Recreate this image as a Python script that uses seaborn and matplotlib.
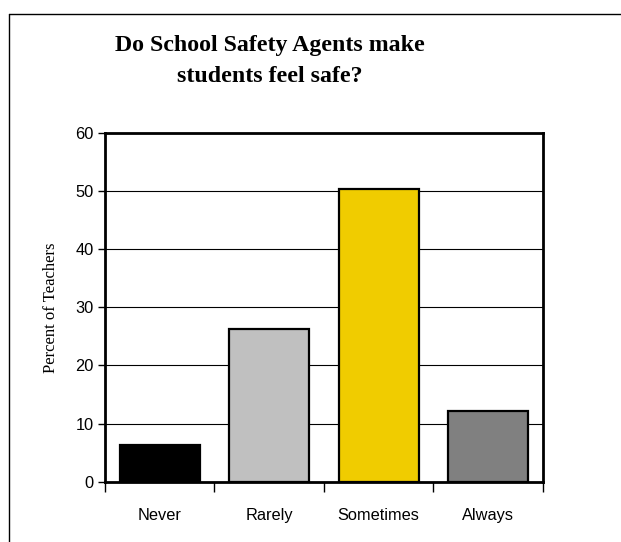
import pandas as pd
import matplotlib.pyplot as plt
import seaborn as sns
from matplotlib.lines import Line2D

# Données
categories = ["Never", "Rarely", "Sometimes", "Always"]
percent_teachers = [6.3, 26.3, 50.3, 12.2]
bar_colors = ["#000000", "#c0c0c0", "#f0cc00", "#808080"]
y_ticks = [0, 10, 20, 30, 40, 50, 60]

sns.set_theme(style="white")
plt.rcParams['font.family'] = ['Liberation Sans', 'DejaVu Sans']

df = pd.DataFrame({"Reponse": categories, "Pourcentage": percent_teachers})

fig = plt.figure(figsize=(6.21, 5.42), dpi=100)
fig.patch.set_facecolor("white")
ax = fig.add_axes([0.169, 0.111, 0.705, 0.644])

sns.barplot(data=df, x="Reponse", y="Pourcentage", hue="Reponse",
            palette=bar_colors, legend=False, width=0.73,
            edgecolor="black", linewidth=1.6, saturation=1, ax=ax, zorder=3)

ax.set_ylim(0, 60)
ax.set_xlim(-0.5, 3.5)
ax.set_yticks(y_ticks)
ax.yaxis.grid(True, color="black", linewidth=0.8, zorder=0)
ax.set_axisbelow(True)

# ticks aux frontières des catégories
ax.set_xticks([-0.5, 0.5, 1.5, 2.5, 3.5], minor=True)
ax.tick_params(axis="x", which="major", length=0, pad=19, labelsize=11.8, colors="black")
ax.tick_params(axis="x", which="minor", length=7, width=1, direction="out", color="black", bottom=True)
ax.tick_params(axis="y", which="major", length=5, width=1, direction="out", color="black",
               left=True, labelsize=11.8, labelcolor="black", pad=3)

for s in ax.spines.values():
    s.set_color("black")
    s.set_linewidth(2)

ax.set_xlabel("")
ax.set_ylabel("Percent of Teachers", family=["Liberation Serif"], fontsize=12,
              color="black", labelpad=12)

fig.text(0.435, 0.888, "Do School Safety Agents make\nstudents feel safe?",
         family=["Liberation Serif"], fontweight="bold", fontsize=17.2,
         ha="center", va="center", linespacing=1.65, color="black")

# cadre extérieur
fig.add_artist(Line2D([9 / 621, 9 / 621], [0, 1 - 14 / 542], color="black", linewidth=1))
fig.add_artist(Line2D([9 / 621, 1], [1 - 14 / 542, 1 - 14 / 542], color="black", linewidth=1))

fig.savefig("out.png", dpi=100)
